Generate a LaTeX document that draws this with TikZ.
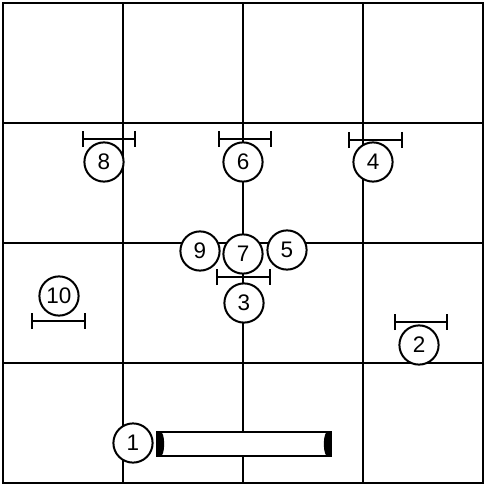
\documentclass[tikz,border=0pt]{standalone}
\usepackage{fontspec}
\setmainfont{Liberation Sans}
\usetikzlibrary{arrows.meta}

\begin{document}
\begin{tikzpicture}[
  x=0.25mm, y=-0.25mm,
  grid/.style={line width=0.5mm},
  num/.style={draw, circle, fill=white, line width=0.5mm, minimum size=9.8mm, inner sep=0pt, font=\fontsize{16}{18}\selectfont},
  jump/.style={{Bar[width=4mm]}-{Bar[width=4mm]}, line width=0.5mm},
  tunnel/.style={draw, fill=white, line width=0.5mm, minimum width=43.5mm, minimum height=6mm, inner sep=0pt, outer sep=0pt}
]
\useasboundingbox (0,0) rectangle (486,486);
\draw[grid] (3,3) rectangle (483,483);
\foreach \v in {123,243,363} {
  \draw[grid] (\v,3) -- (\v,483);
  \draw[grid] (3,\v) -- (483,\v);
}
\node[tunnel] (tun) at (244,444) {};
\fill ([xshift=0.8mm]tun.west) ellipse [x radius=1mm, y radius=3.2mm];
\fill ([xshift=-0.8mm]tun.east) ellipse [x radius=1mm, y radius=3.2mm];
\node[num] (n1) at (133,443) {1};
\node[num] (n2) at (419,345) {2};
\node[num] (n3) at (244,303) {3};
\node[num] (n4) at (373,162) {4};
\node[num] (n5) at (287,250) {5};
\node[num] (n6) at (243,162) {6};
\node[num] (n7) at (243,254) {7};
\node[num] (n8) at (104,162) {8};
\node[num] (n9) at (200,251) {9};
\node[num] (n10) at (59,296) {10};
\draw[jump] (82,139) -- (136,139);
\draw[jump] (218,139) -- (272,139);
\draw[jump] (348,140) -- (403,140);
\draw[jump] (216,277) -- (271,277);
\draw[jump] (31,321) -- (86,321);
\draw[jump] (394,322) -- (448,322);
\end{tikzpicture}
\end{document}
